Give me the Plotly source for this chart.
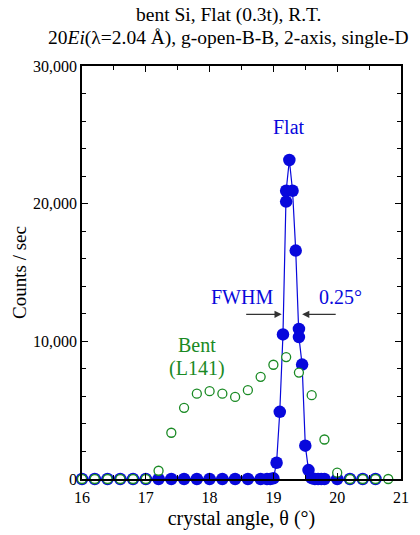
import plotly.graph_objects as go

# Flat (0.3t) series — blue filled, connected
flat_x = [16.0, 16.2, 16.4, 16.6, 16.8, 17.0, 17.2, 17.4, 17.6, 17.8, 18.0, 18.2, 18.4, 18.6, 18.8,
          18.9, 18.95, 19.0, 19.05, 19.1, 19.15, 19.2, 19.2, 19.25, 19.3, 19.35, 19.4, 19.4, 19.45,
          19.5, 19.55, 19.6, 19.65, 19.7, 19.75, 19.8, 20.0, 20.2, 20.4, 20.6]
flat_y = [0, 0, 0, 0, 0, 0, 0, 0, 0, 0, 0, 0, 0, 0, 0,
          0, 0, 50, 1180, 4880, 10500, 20150, 20940, 23170, 20940, 16590, 10900, 10310, 8310,
          2420, 650, 60, 0, 0, 0, 0, 0, 0, 0, 0]

# Bent (L141) series — green open circles
bent_x = [16.0, 16.2, 16.4, 16.6, 16.8, 17.0, 17.2, 17.4, 17.6, 17.8, 18.0, 18.2, 18.4, 18.6,
          18.8, 19.0, 19.2, 19.4, 19.6, 19.8, 20.0, 20.2, 20.4, 20.6, 20.8]
bent_y = [0, 0, 0, 0, 0, 0, 600, 3360, 5170, 6200, 6380, 6200, 5960, 6450,
          7420, 8300, 8860, 7730, 6090, 2870, 460, 0, 0, 0, 0]

x_ticks = [16, 17, 18, 19, 20, 21]
y_ticks = [0, 10000, 20000, 30000]

FONT = "Liberation Serif"
BLUE = "#0808dc"
GREEN = "#1a8a24"

fig = go.Figure()
fig.add_trace(go.Scatter(
    x=flat_x, y=flat_y, mode="lines+markers", cliponaxis=False,
    line=dict(color=BLUE, width=1.2),
    marker=dict(color=BLUE, size=12.5, line=dict(width=0)),
    showlegend=False))
fig.add_trace(go.Scatter(
    x=bent_x, y=bent_y, mode="markers", cliponaxis=False,
    marker=dict(color="white", size=9, line=dict(color=GREEN, width=1.3)),
    showlegend=False))

axis_common = dict(showgrid=False, zeroline=False, showline=True, linecolor="black",
                   linewidth=1.5, mirror="ticks", ticks="inside", ticklen=6,
                   tickcolor="black", tickwidth=1, automargin=False,
                   tickfont=dict(family=FONT, size=16, color="black"))

fig.update_xaxes(range=[16, 21], tickvals=x_ticks, ticktext=[str(v) for v in x_ticks],
                 ticklabelstandoff=3,
                 minor=dict(dtick=0.5, ticks="inside", ticklen=4, tickcolor="black"),
                 title=dict(text="crystal angle, θ (°)", font=dict(family=FONT, size=20, color="black"),
                            standoff=6),
                 **axis_common)
fig.update_yaxes(range=[0, 30000], tickvals=y_ticks, tickformat=",d",
                 minor=dict(dtick=2000, ticks="inside", ticklen=4, tickcolor="black"),
                 title=dict(text="Counts / sec", font=dict(family=FONT, size=19, color="black"),
                            standoff=1),
                 **axis_common)

ann = []
ann.append(dict(text="bent Si, Flat (0.3t), R.T.", xref="paper", yref="paper",
                x=0.458, y=1.0, yshift=51, showarrow=False, xanchor="center", yanchor="middle",
                font=dict(family=FONT, size=19.5, color="black")))
ann.append(dict(text="20<i>Ei</i>(λ=2.04 Å), g-open-B-B, 2-axis, single-D", xref="paper", yref="paper",
                x=0.458, y=1.0, yshift=28, showarrow=False, xanchor="center", yanchor="middle",
                font=dict(family=FONT, size=19.5, color="black")))
ann.append(dict(text="Flat", x=19.25, y=25600, showarrow=False,
                font=dict(family=FONT, size=20, color=BLUE)))
ann.append(dict(text="FWHM", x=18.5, y=13200, showarrow=False,
                font=dict(family=FONT, size=20, color=BLUE)))
ann.append(dict(text="0.25°", x=20.05, y=13200, showarrow=False,
                font=dict(family=FONT, size=20, color=BLUE)))
ann.append(dict(text="Bent", x=17.8, y=9700, showarrow=False,
                font=dict(family=FONT, size=20, color=GREEN)))
ann.append(dict(text="(L141)", x=17.8, y=8050, showarrow=False,
                font=dict(family=FONT, size=20, color=GREEN)))
# FWHM arrows
ann.append(dict(text="", x=19.13, y=11960, ax=18.55, ay=11960, axref="x", ayref="y",
                showarrow=True, arrowhead=2, arrowsize=1.2, arrowwidth=1.2, arrowcolor="#333"))
ann.append(dict(text="", x=19.45, y=11960, ax=20.0, ay=11960, axref="x", ayref="y",
                showarrow=True, arrowhead=2, arrowsize=1.2, arrowwidth=1.2, arrowcolor="#333"))

fig.update_layout(
    width=420, height=535,
    margin=dict(l=82, r=19, t=66, b=56),
    paper_bgcolor="white", plot_bgcolor="white",
    font=dict(family=FONT, color="black"),
    annotations=ann,
)

fig.write_html("out.html")
